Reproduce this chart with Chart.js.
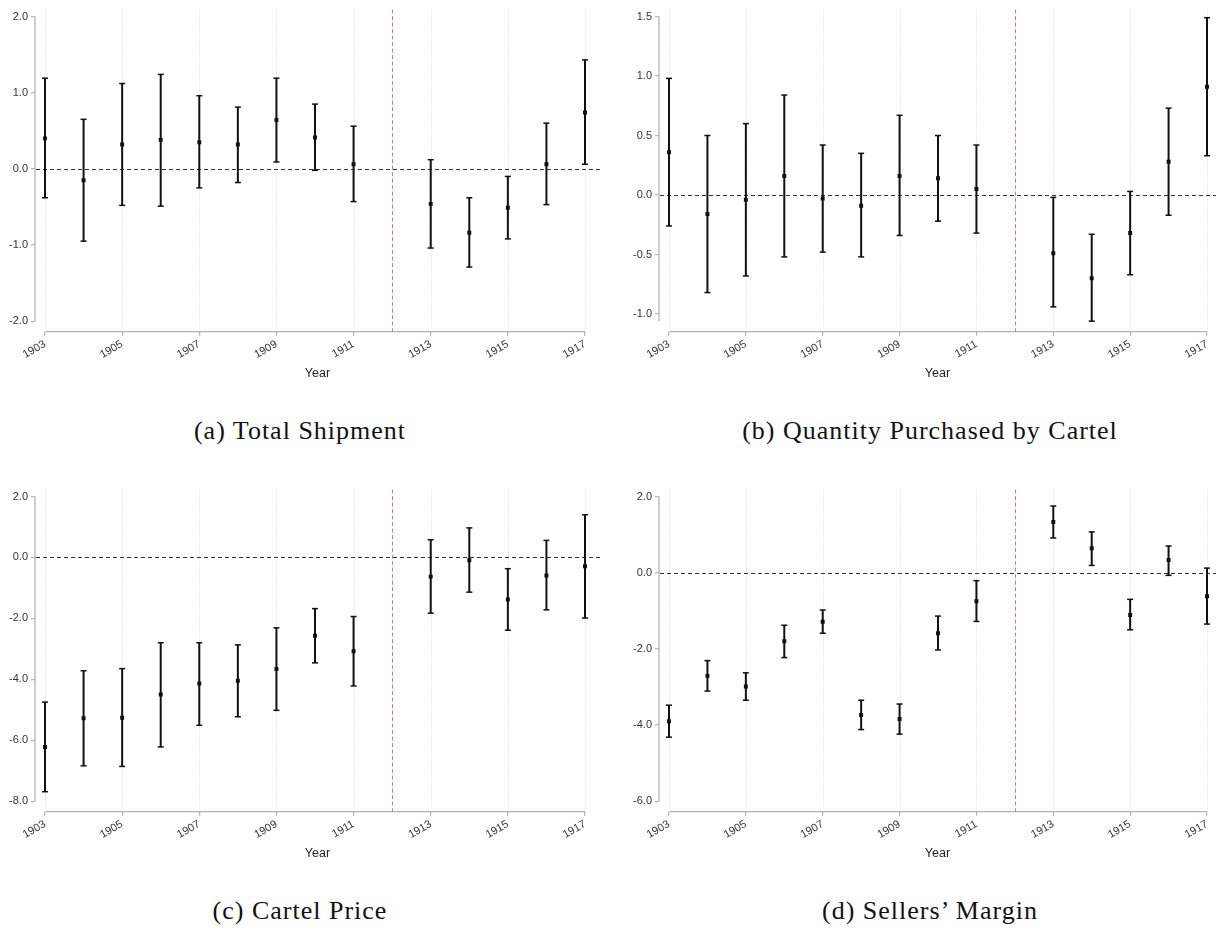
<!DOCTYPE html>
<html>
<head>
<meta charset="utf-8">
<script src="https://cdn.jsdelivr.net/npm/chart.js@4.4.1/dist/chart.umd.min.js"></script>
<style>
  html, body { margin: 0; padding: 0; background: #fff; }
  body { width: 1221px; height: 930px; position: relative; overflow: hidden; }
  .panel { position: absolute; }
  .cap {
    position: absolute; width: 600px; text-align: center; white-space: nowrap;
    font-family: 'Liberation Serif', 'Times New Roman', serif; font-size: 26px;
    line-height: 26px; color: #111; letter-spacing: 1px;
  }
</style>
</head>
<body>
<div class="panel" id="pa"><canvas id="chartA"></canvas></div>
<div class="panel" id="pb"><canvas id="chartB"></canvas></div>
<div class="panel" id="pc"><canvas id="chartC"></canvas></div>
<div class="panel" id="pd"><canvas id="chartD"></canvas></div>
<div class="cap" style="left:0px;top:418px">(a) Total Shipment</div>
<div class="cap" style="left:630px;top:418px">(b) Quantity Purchased by Cartel</div>
<div class="cap" style="left:0px;top:898px">(c) Cartel Price</div>
<div class="cap" style="left:630px;top:898px">(d) Sellers’ Margin</div>
<script>
// event-study coefficients, 1912 omitted (base year)
const years = [1903, 1904, 1905, 1906, 1907, 1908, 1909, 1910, 1911, 1913, 1914, 1915, 1916, 1917];
const xTicks = [1903, 1905, 1907, 1909, 1911, 1913, 1915, 1917];
const breakYear = 1912;

const shipEst = [0.40, -0.15, 0.32, 0.38, 0.35, 0.32, 0.64, 0.41, 0.06, -0.46, -0.84, -0.51, 0.06, 0.74];
const shipLo  = [-0.38, -0.95, -0.48, -0.49, -0.25, -0.18, 0.09, -0.02, -0.43, -1.04, -1.29, -0.92, -0.47, 0.06];
const shipHi  = [1.19, 0.65, 1.12, 1.24, 0.96, 0.81, 1.19, 0.85, 0.56, 0.12, -0.38, -0.10, 0.60, 1.43];
const shipTicks = [-2, -1, 0, 1, 2];

const buyEst = [0.36, -0.16, -0.04, 0.16, -0.03, -0.09, 0.16, 0.14, 0.05, -0.49, -0.70, -0.32, 0.28, 0.91];
const buyLo  = [-0.26, -0.82, -0.68, -0.52, -0.48, -0.52, -0.34, -0.22, -0.32, -0.94, -1.06, -0.67, -0.17, 0.33];
const buyHi  = [0.98, 0.50, 0.60, 0.84, 0.42, 0.35, 0.67, 0.50, 0.42, -0.02, -0.33, 0.03, 0.73, 1.49];
const buyTicks = [-1, -0.5, 0, 0.5, 1, 1.5];

const priceEst = [-6.22, -5.28, -5.26, -4.50, -4.14, -4.05, -3.66, -2.57, -3.08, -0.63, -0.09, -1.38, -0.59, -0.29];
const priceLo  = [-7.69, -6.84, -6.86, -6.22, -5.51, -5.23, -5.02, -3.46, -4.22, -1.83, -1.14, -2.39, -1.72, -1.99];
const priceHi  = [-4.75, -3.72, -3.65, -2.80, -2.80, -2.87, -2.31, -1.68, -1.94, 0.58, 0.97, -0.37, 0.56, 1.40];
const priceTicks = [-8, -6, -4, -2, 0, 2];

const marginEst = [-3.90, -2.71, -2.99, -1.80, -1.29, -3.74, -3.84, -1.59, -0.75, 1.33, 0.64, -1.11, 0.33, -0.62];
const marginLo  = [-4.32, -3.11, -3.35, -2.23, -1.59, -4.12, -4.24, -2.03, -1.28, 0.91, 0.19, -1.50, -0.07, -1.35];
const marginHi  = [-3.48, -2.31, -2.63, -1.38, -0.98, -3.35, -3.45, -1.14, -0.21, 1.75, 1.07, -0.70, 0.70, 0.12];
const marginTicks = [-6, -4, -2, 0, 2];

// layout (px)
const CANVAS_H = 385, PAD_TOP = 5, AXIS_Y = 331.7, Y_W = 35;
const IN_TOP = 7, IN_BOTTOM = 10.7;           // gap between plot edge and y range
const cols = [
  { left: 0,   width: 605, padRight: 5, inLeft: 10, inRight: 15 },
  { left: 624, width: 597, padRight: 5, inLeft: 10, inRight: 9 }
];
const rows = [0, 480];

Chart.defaults.font.family = "'Liberation Sans', Arial, Helvetica, sans-serif";
Chart.defaults.color = '#333';

function strokeLine(ctx, x1, y1, x2, y2) {
  ctx.beginPath(); ctx.moveTo(x1, y1); ctx.lineTo(x2, y2); ctx.stroke();
}

const decor = {
  id: 'decor',
  beforeDatasetsDraw(chart) {
    const { ctx, chartArea: a, scales: { x, y } } = chart;
    const o = chart.options.plugins.decor;
    ctx.save();
    // dotted vertical grid at labelled years
    ctx.strokeStyle = '#d6d6d6'; ctx.lineWidth = 1; ctx.setLineDash([1, 2]);
    xTicks.forEach(v => {
      const px = Math.round(x.getPixelForValue(v)) + 0.5;
      strokeLine(ctx, px, a.top, px, a.bottom);
    });
    // axis lines (offset Stata style)
    ctx.setLineDash([]);
    ctx.strokeStyle = '#b4b4b4'; ctx.lineWidth = 1.3;
    strokeLine(ctx, a.left, y.getPixelForValue(o.yMax), a.left, y.getPixelForValue(o.yMin));
    strokeLine(ctx, x.getPixelForValue(xTicks[0]), a.bottom, x.getPixelForValue(xTicks[xTicks.length - 1]), a.bottom);
    // zero line
    ctx.strokeStyle = '#333'; ctx.lineWidth = 1.2; ctx.setLineDash([4, 3]);
    const y0 = Math.round(y.getPixelForValue(0)) + 0.5;
    strokeLine(ctx, a.left + 1, y0, a.right, y0);
    // treatment year
    ctx.strokeStyle = '#e0709a'; ctx.lineWidth = 1; ctx.setLineDash([4, 2.5]);
    const xb = Math.round(x.getPixelForValue(breakYear)) + 0.5;
    strokeLine(ctx, xb, a.top, xb, a.bottom);
    // confidence intervals
    ctx.setLineDash([]);
    ctx.strokeStyle = '#111';
    years.forEach((yr, i) => {
      const px = x.getPixelForValue(yr);
      const pl = y.getPixelForValue(o.lo[i]);
      const ph = y.getPixelForValue(o.hi[i]);
      ctx.lineWidth = 2;
      strokeLine(ctx, px, pl, px, ph);
      ctx.lineWidth = 1.5;
      strokeLine(ctx, px - 3, pl, px + 3, pl);
      strokeLine(ctx, px - 3, ph, px + 3, ph);
    });
    ctx.restore();
  }
};

function makePanel(id, holder, col, rowTop, est, lo, hi, ticks) {
  const c = cols[col];
  const el = document.getElementById(holder);
  el.style.left = c.left + 'px';
  el.style.top = rowTop + 'px';
  el.style.width = c.width + 'px';
  el.style.height = CANVAS_H + 'px';

  // x range so that 1903/1917 sit inside the plot region
  const areaW = c.width - Y_W - c.padRight;
  const ppy = (areaW - c.inLeft - c.inRight) / (xTicks[xTicks.length - 1] - xTicks[0]);
  const xMin = xTicks[0] - c.inLeft / ppy;
  const xMax = xTicks[xTicks.length - 1] + c.inRight / ppy;

  // y range covers ticks and intervals, plus small plot margins
  const yMin = Math.min(ticks[0], ...lo);
  const yMax = Math.max(ticks[ticks.length - 1], ...hi);
  const areaH = AXIS_Y - PAD_TOP;
  const upp = (yMax - yMin) / (areaH - IN_TOP - IN_BOTTOM);

  return new Chart(document.getElementById(id), {
    type: 'scatter',
    data: {
      datasets: [{
        data: years.map((yr, i) => ({ x: yr, y: est[i] })),
        backgroundColor: '#111',
        borderWidth: 0,
        pointStyle: 'rect',
        pointRadius: 2.8,
        pointHoverRadius: 2.8
      }]
    },
    options: {
      responsive: true,
      maintainAspectRatio: false,
      animation: false,
      events: [],
      layout: { padding: { top: PAD_TOP, right: c.padRight, left: 0, bottom: 0 } },
      plugins: {
        legend: { display: false },
        tooltip: { enabled: false },
        decor: { lo: lo, hi: hi, yMin: yMin, yMax: yMax }
      },
      scales: {
        x: {
          type: 'linear',
          min: xMin,
          max: xMax,
          afterBuildTicks: s => { s.ticks = xTicks.map(v => ({ value: v })); },
          afterFit: s => { s.height = CANVAS_H - AXIS_Y; },
          ticks: {
            autoSkip: false, minRotation: 30, maxRotation: 30, padding: 2,
            font: { size: 11 }, color: '#333',
            callback: v => String(v)
          },
          grid: { drawOnChartArea: false, drawTicks: true, tickLength: 4, color: '#b4b4b4', lineWidth: 1.2 },
          border: { display: false },
          title: { display: true, text: 'Year', font: { size: 12.5 }, color: '#222', padding: { top: 0, bottom: 3.5 } }
        },
        y: {
          type: 'linear',
          min: yMin - IN_BOTTOM * upp,
          max: yMax + IN_TOP * upp,
          afterBuildTicks: s => { s.ticks = ticks.map(v => ({ value: v })); },
          afterFit: s => { s.width = Y_W; },
          ticks: { padding: 3, font: { size: 11 }, color: '#333', callback: v => v.toFixed(1) },
          grid: { drawOnChartArea: false, drawTicks: true, tickLength: 4, color: '#b4b4b4', lineWidth: 1.2 },
          border: { display: false }
        }
      }
    },
    plugins: [decor]
  });
}

makePanel('chartA', 'pa', 0, rows[0], shipEst, shipLo, shipHi, shipTicks);
makePanel('chartB', 'pb', 1, rows[0], buyEst, buyLo, buyHi, buyTicks);
makePanel('chartC', 'pc', 0, rows[1], priceEst, priceLo, priceHi, priceTicks);
makePanel('chartD', 'pd', 1, rows[1], marginEst, marginLo, marginHi, marginTicks);
</script>
</body>
</html>
